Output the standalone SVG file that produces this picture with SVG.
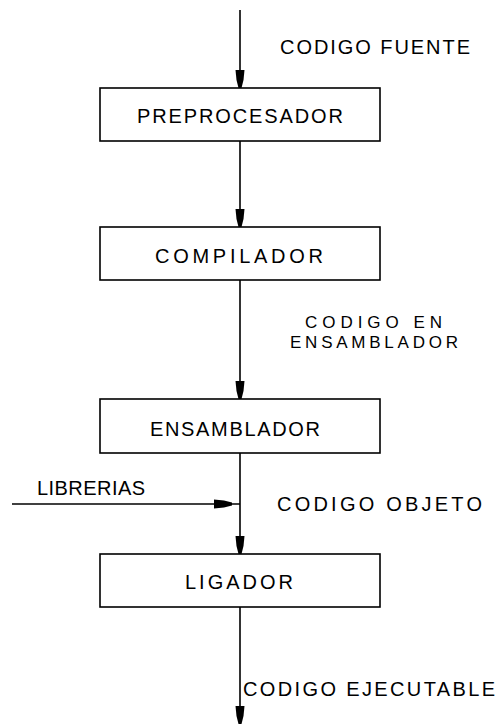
<svg xmlns="http://www.w3.org/2000/svg" xmlns:xlink="http://www.w3.org/1999/xlink" width="497" height="725" viewBox="0 0 497 725">
<style>
.box{fill:#fff;stroke:#000;stroke-width:1.6}
.ln{stroke:#000;stroke-width:1.6;fill:none}
.t{font-family:"Liberation Sans",Arial,sans-serif;font-size:20px;fill:#000}
.s{font-size:17px}
</style>
<defs>
<path id="ah" d="M-4.5,-18 L4.5,-18 L3.5,-8 L1.5,0 L-1.5,0 L-3.5,-8 Z" fill="#000"/>
</defs>
<g id="connectors">
<line class="ln" x1="240" y1="10" x2="240" y2="88"/>
<use xlink:href="#ah" href="#ah" transform="translate(240,88)"/>
<line class="ln" x1="240" y1="141" x2="240" y2="227"/>
<use xlink:href="#ah" href="#ah" transform="translate(240,227)"/>
<line class="ln" x1="240" y1="280" x2="240" y2="399"/>
<use xlink:href="#ah" href="#ah" transform="translate(240,399)"/>
<line class="ln" x1="240" y1="453" x2="240" y2="554"/>
<use xlink:href="#ah" href="#ah" transform="translate(240,554)"/>
<line class="ln" x1="12" y1="504" x2="240" y2="504"/>
<use xlink:href="#ah" href="#ah" transform="translate(232,504) rotate(-90)"/>
<line class="ln" x1="240" y1="607" x2="240" y2="722"/>
<use xlink:href="#ah" href="#ah" transform="translate(240,724)"/>
</g>
<g id="label-fuente"><text class="t" x="280" y="54" textLength="190">CODIGO FUENTE</text></g>
<g id="preprocesador">
<rect class="box" x="100" y="88" width="280" height="53"/>
<text class="t" x="137" y="123" textLength="206">PREPROCESADOR</text>
</g>
<g id="compilador">
<rect class="box" x="100" y="227" width="280" height="53"/>
<text class="t" x="155" y="263" textLength="168">COMPILADOR</text>
</g>
<g id="label-ensamblador"><text class="t s" x="305" y="328" textLength="137">CODIGO EN</text><text class="t s" x="290" y="348" textLength="168">ENSAMBLADOR</text></g>
<g id="ensamblador">
<rect class="box" x="100" y="399" width="280" height="54"/>
<text class="t" x="150" y="436" textLength="170">ENSAMBLADOR</text>
</g>
<g id="librerias"><text class="t" x="37" y="495" textLength="108">LIBRERIAS</text></g>
<g id="label-objeto"><text class="t" x="277" y="511" textLength="205">CODIGO OBJETO</text></g>
<g id="ligador">
<rect class="box" x="100" y="554" width="280" height="53"/>
<text class="t" x="185" y="589" textLength="108">LIGADOR</text>
</g>
<g id="label-ejecutable"><text class="t" x="243" y="696" textLength="252">CODIGO EJECUTABLE</text></g>
</svg>
